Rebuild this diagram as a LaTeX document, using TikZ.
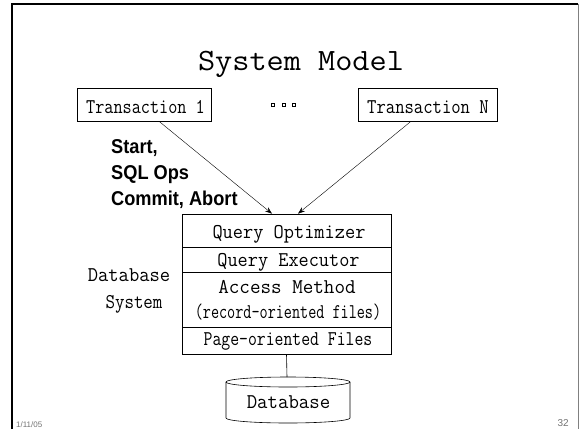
\documentclass[tikz,border=0pt]{standalone}
\usepackage{fontspec}
\usepackage{graphicx}
\newfontfamily\lblfont[FakeStretch=0.91]{Liberation Sans}
\newfontfamily\footfont{Liberation Sans}
\usetikzlibrary{arrows.meta,calc}
\newcommand{\sqz}[2]{\scalebox{#1}[1]{#2}}
\begin{document}
\begin{tikzpicture}[x=1pt,y=-1pt,
  rowbox/.style={draw, line width=0.6pt, inner sep=0pt, minimum width=209pt},
  tbox/.style={draw, line width=0.6pt, inner sep=0pt, minimum height=33pt},
  mono/.style={font=\ttfamily\fontsize{21}{24}\selectfont, inner sep=0pt, anchor=base},
  arr/.style={-{Stealth[length=7pt,width=5pt]}, line width=0.4pt},
  dotbox/.style={draw, line width=0.6pt, inner sep=0pt, minimum size=3pt},
  foot/.style={font=\footfont\fontsize{8}{9}\selectfont, text=black!55, inner sep=0pt},
]
\useasboundingbox (0,0) rectangle (581,429);
% slide frame
\draw[line width=2pt] (12,429) -- (12,3.5) -- (578,3.5);
\draw[black!50, line width=0.8pt] (578,3.5) -- (578,429);

% title
\node[mono, font=\ttfamily\fontsize{31}{34}\selectfont] (title) at (301,70) {\sqz{1.075}{System Model}};

% transactions
\node[tbox, minimum width=134pt] (t1) at (144,104.5) {};
\node[mono] (t1t) at (145.5,113) {\sqz{0.844}{Transaction 1}};
\node[tbox, minimum width=139pt] (tn) at (427.5,104.5) {};
\node[mono] (tnt) at (428,113) {\sqz{0.865}{Transaction N}};
\node[dotbox] (d1) at (273,105) {};
\node[dotbox] (d2) at (283.5,105) {};
\node[dotbox] (d3) at (294,105) {};

% operations label
\node[font=\lblfont\bfseries\fontsize{20}{26}\selectfont, align=left, anchor=base west, inner sep=0pt] (ops) at (111,205) {Start,\\SQL Ops\\Commit, Abort};

% DBMS stack
\node[rowbox, minimum height=33pt] (r1) at (286.5,230.5) {};
\node[rowbox, minimum height=25pt] (r2) at (286.5,259.5) {};
\node[rowbox, minimum height=55pt] (r3) at (286.5,299.5) {};
\node[rowbox, minimum height=27pt] (r4) at (286.5,340.5) {};
\node[mono] (r1t) at (289,238) {\sqz{0.943}{Query Optimizer}};
\node[mono] (r2t) at (288.5,266) {\sqz{0.939}{Query Executor}};
\node[mono] (r3a) at (287,293) {\sqz{0.977}{Access Method}};
\node[mono] (r3b) at (288,318) {\sqz{0.749}{(record-oriented files)}};
\node[mono] (r4t) at (288,345) {\sqz{0.821}{Page-oriented Files}};

\node[mono] (dbs1) at (129,281) {\sqz{0.952}{Database}};
\node[mono] (dbs2) at (134,308) {\sqz{0.877}{System}};

% arrows
\draw[arr] ($(t1.south)+(15,0)$) -- ($(r1.north)+(-14.5,0)$);
\draw[arr] ($(tn.south)+(-16.5,0)$) -- ($(r1.north)+(11.5,0)$);

% database cylinder
\coordinate (dbtop) at (287,377);
\draw[line width=0.6pt] (226,382) -- (226,418) arc[start angle=180, end angle=0, x radius=62, y radius=5] -- (350,382);
\draw[line width=0.6pt] (288,382) ellipse [x radius=62, y radius=5];
\node[mono] (dbt) at (288.5,408) {\sqz{0.964}{Database}};
\draw[line width=0.6pt] (r4.south) -- (dbtop);

% footer
\node[foot, anchor=north west] (date) at (16,421) {1/11/05};
\node[foot, font=\footfont\fontsize{10}{11}\selectfont, anchor=base east] (page) at (569,426) {32};
\end{tikzpicture}
\end{document}
